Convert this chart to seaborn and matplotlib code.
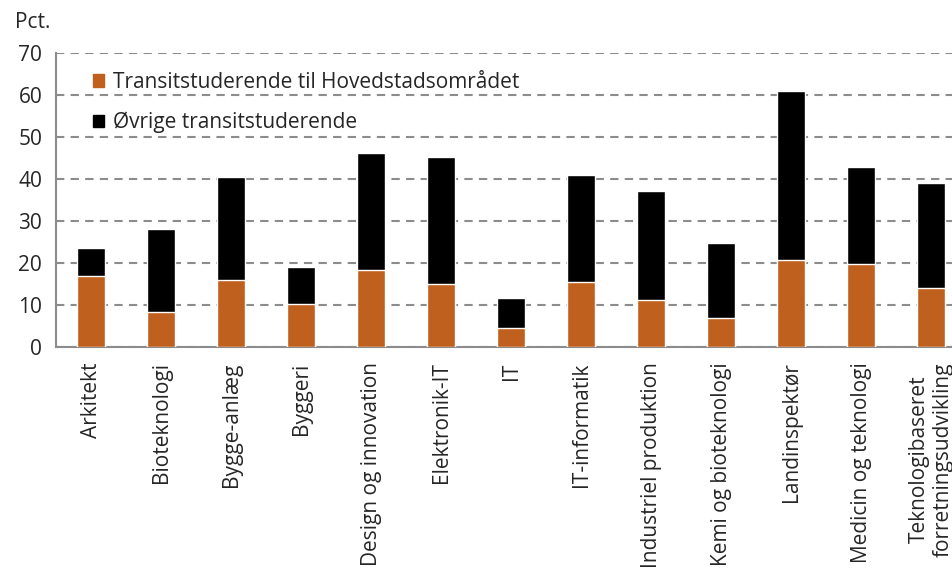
import pandas as pd
import seaborn as sns
import matplotlib.pyplot as plt
from matplotlib.ticker import FixedLocator
from matplotlib.patches import Patch

# Data
uddannelser = ["Arkitekt", "Bioteknologi", "Bygge-anlæg", "Byggeri",
               "Design og innovation", "Elektronik-IT", "IT", "IT-informatik",
               "Industriel produktion", "Kemi og bioteknologi", "Landinspektør",
               "Medicin og teknologi", "Teknologibaseret\nforretningsudvikling"]
hovedstad = [16.9, 8.3, 15.9, 10.2, 18.3, 15.0, 4.5, 15.4, 11.1, 6.9, 20.7, 19.7, 14.0]
total = [23.5, 28.2, 40.6, 19.1, 46.3, 45.4, 11.6, 41.1, 37.2, 24.9, 61.1, 43.0, 39.1]

orange = "#C0601E"
grey = "#8C8C8C"

df = pd.DataFrame({"Uddannelse": uddannelser, "Hovedstad": hovedstad, "Total": total})

sns.set_style("white")
plt.rcParams["font.family"] = ["Open Sans", "DejaVu Sans"]

fig = plt.figure(figsize=(9.53, 5.68), dpi=100)
ax = fig.add_axes([0.0588, 0.389, 0.955, 0.517])

# stacked: total in black, Hovedstad part in orange on top
sns.barplot(data=df, x="Uddannelse", y="Total", color="black", width=0.39,
            saturation=1, ax=ax, zorder=3)
sns.barplot(data=df, x="Uddannelse", y="Hovedstad", color=orange, width=0.39,
            saturation=1, ax=ax, zorder=4)

ax.set_xlim(-0.5, len(uddannelser) - 0.5)
ax.set_ylim(0, 70)
ax.set_yticks(range(0, 71, 10))
ax.set_xlabel("")
ax.set_ylabel("")

ax.yaxis.grid(True, linestyle=(0, (4, 3)), color=grey, linewidth=1.5, zorder=0)
ax.set_axisbelow(True)
for s in ["top", "right"]:
    ax.spines[s].set_visible(False)
for s in ["left", "bottom"]:
    ax.spines[s].set_color(grey)
    ax.spines[s].set_linewidth(1.5)

ax.tick_params(axis="y", labelsize=15, length=7, width=1.5, color=grey, pad=3)
ax.tick_params(axis="x", which="major", labelsize=15, length=0, pad=11, labelrotation=90)
ax.xaxis.set_minor_locator(FixedLocator([i - 0.5 for i in range(len(uddannelser) + 1)]))
ax.tick_params(axis="x", which="minor", length=6, width=1.5, color=grey)

handles = [Patch(color=orange), Patch(color="black")]
labels = ["Transitstuderende til Hovedstadsområdet", "Øvrige transitstuderende"]
ax.legend(handles, labels, loc="upper left", bbox_to_anchor=(0.02, 1.0), frameon=False,
          fontsize=15, handlelength=0.55, handleheight=0.55, handletextpad=0.4,
          labelspacing=0.9)

fig.text(0.016, 0.96, "Pct.", fontsize=15, ha="left", va="center")

fig.savefig("out.png", dpi=100)
